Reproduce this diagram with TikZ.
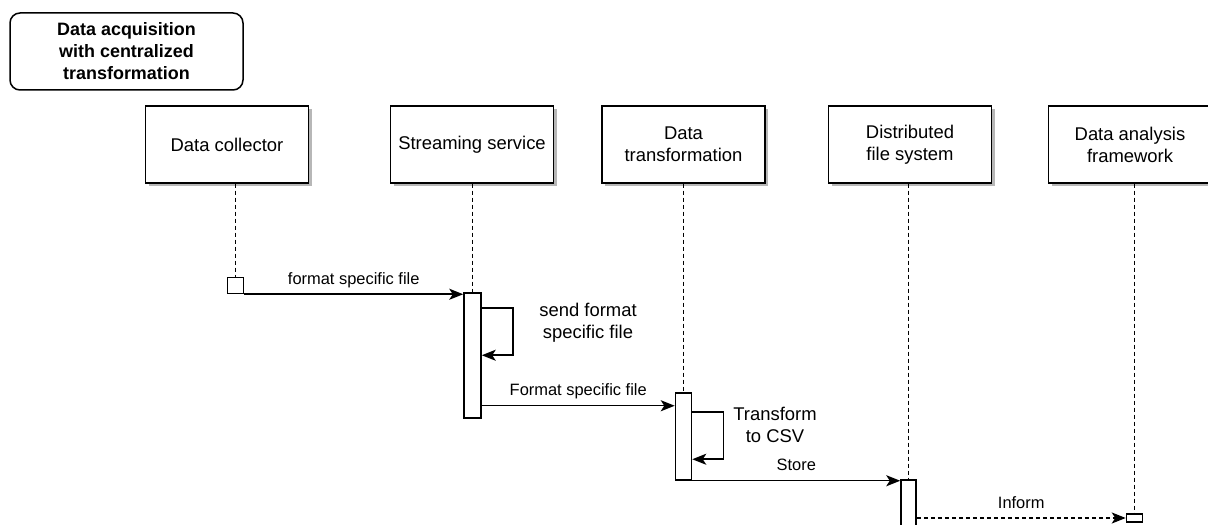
\documentclass[tikz,border=0pt]{standalone}
\usepackage{fontspec}
\setmainfont{Liberation Sans}
\usetikzlibrary{arrows.meta,shadows}
\begin{document}
\begin{tikzpicture}[>={Stealth[length=14bp,width=11bp,inset=3.5bp]},line join=miter,
  life/.style={draw, fill=white, line width=1.5bp, minimum width=163bp, minimum height=77bp,
    inner sep=2bp, align=center, font=\fontsize{18.5}{22}\selectfont,
    drop shadow={shadow xshift=3bp,shadow yshift=-3bp,fill=black!40,opacity=.7}},
  act/.style={draw, fill=white, line width=1.5bp, minimum width=16bp, inner sep=0pt},
  lifeline/.style={line width=1bp, dash pattern=on 4bp off 3bp},
  msg/.style={->, line width=1.5bp},
  reply/.style={->, line width=1.5bp, dash pattern=on 4bp off 3bp},
  lbl/.style={font=\fontsize{16.5}{19}\selectfont, anchor=base, yshift=10bp},
  note/.style={font=\fontsize{18.5}{22}\selectfont, align=center}]
  \useasboundingbox (0bp,0bp) rectangle (1208bp,525bp);
  % Node: title
  \node[draw, line width=1.5bp, rounded corners=10bp, minimum width=233bp, minimum height=77bp,
    align=center, font=\bfseries\fontsize{18}{22}\selectfont] (title) at (126.5bp,473.5bp)
    {Data acquisition\\with centralized\\transformation};
  % Node: collector
  \node[life] (collector) at (227bp,380.5bp) {Data collector};
  % Node: streaming
  \node[life] (streaming) at (472bp,380.5bp) {Streaming service};
  % Node: transform
  \node[life] (transform) at (683.5bp,380.5bp) {Data\\transformation};
  % Node: dfs
  \node[life] (dfs) at (910bp,380.5bp) {Distributed\\file system};
  % Node: analysis
  \node[life] (analysis) at (1130bp,380.5bp) {Data analysis\\framework};
  % Activations
  \node[act, minimum height=16bp] (collectorAct) at (235.5bp,239.5bp) {};
  \node[act, minimum width=17bp, minimum height=125bp] (streamingAct) at (472.5bp,169.5bp) {};
  \node[act, minimum height=87bp] (transformAct) at (683.5bp,88.5bp) {};
  \node[act, minimum width=15bp, minimum height=50bp] (dfsAct) at (908.5bp,20bp) {};
  \node[act, minimum height=8bp] (analysisAct) at (1134.5bp,7bp) {};
  % Lifelines
  \draw[lifeline] (collector.south -| collectorAct.north) -- (collectorAct.north);
  \draw[lifeline] (streaming.south -| streamingAct.north) -- (streamingAct.north);
  \draw[lifeline] (transform.south -| transformAct.north) -- (transformAct.north);
  \draw[lifeline] (dfs.south -| dfsAct.north) -- (dfsAct.north);
  \draw[lifeline] (analysis.south -| analysisAct.north) -- (analysisAct.north);
  % Edge: collector -> streaming
  \draw[msg] (collectorAct.south east) -- (collectorAct.south east -| streamingAct.west)
    node[lbl, midway] {format specific file};
  % Edge: streaming -> streaming
  \draw[msg] ([yshift=-16bp]streamingAct.north east) -- ++(31bp,0) -- ++(0,-47bp) -- ++(-31bp,0);
  \node[note] (sendNote) at (588bp,202bp) {send format\\specific file};
  % Edge: streaming -> transform
  \coordinate (m2) at ([yshift=13bp]streamingAct.south east);
  \draw[msg] (m2) -- (m2 -| transformAct.west) node[lbl, midway] {Format specific file};
  % Edge: transform -> transform
  \draw[msg] ([yshift=-20bp]transformAct.north east) -- ++(31bp,0) -- ++(0,-47bp) -- ++(-31bp,0);
  \node[note] (csvNote) at (775bp,100bp) {Transform\\to CSV};
  % Edge: transform -> dfs
  \draw[msg] (transformAct.south east) -- (transformAct.south east -| dfsAct.west)
    node[lbl, midway] {Store};
  % Edge: dfs -> analysis
  \draw[reply] (analysisAct.west -| dfsAct.east) -- (analysisAct.west)
    node[lbl, midway] {Inform};
\end{tikzpicture}
\end{document}
